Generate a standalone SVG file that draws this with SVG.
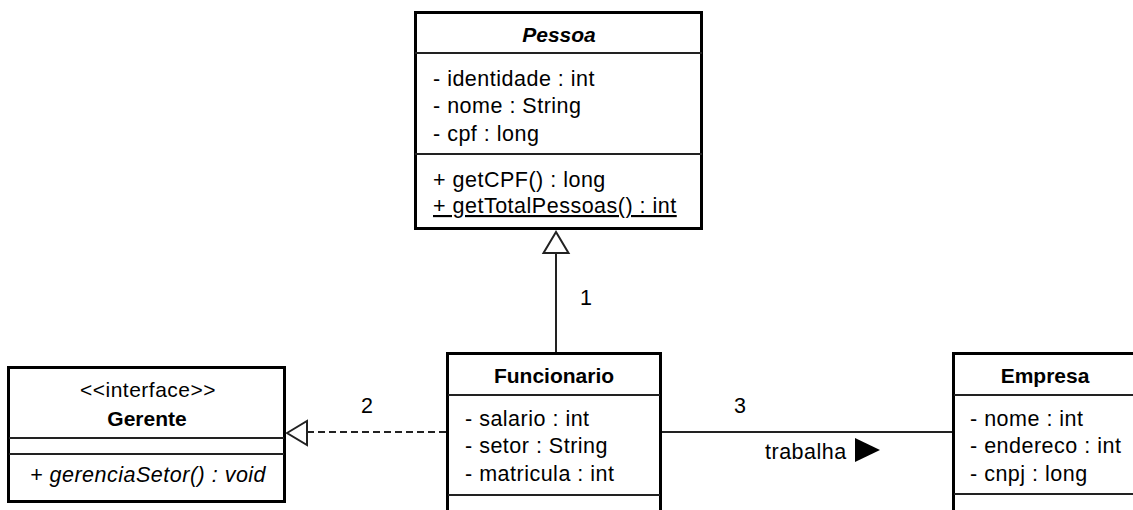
<svg xmlns="http://www.w3.org/2000/svg" width="1133" height="510" viewBox="0 0 1133 510">
<style>
.box{fill:#fff;stroke:#000;stroke-width:3}
.sep{stroke:#222;stroke-width:2}
.t{font-family:"Liberation Sans",Arial,sans-serif;font-size:21.5px;letter-spacing:0.5px;fill:#000}
.b{font-weight:bold;font-size:21px;letter-spacing:0}
.i{font-style:italic}
.c{text-anchor:middle}
.ln{stroke:#222;stroke-width:2;fill:none}
</style>
<rect width="1133" height="510" fill="#fff"/>
<g id="Pessoa">
<rect class="box" x="415.5" y="12.5" width="286" height="216"/>
<line class="sep" x1="415" y1="53" x2="702" y2="53"/>
<line class="sep" x1="415" y1="154" x2="702" y2="154"/>
<text class="t b i c" x="559" y="42">Pessoa</text>
<text class="t" x="433" y="86">- identidade : int</text>
<text class="t" x="433" y="113">- nome : String</text>
<text class="t" x="433" y="141">- cpf : long</text>
<text class="t" x="433" y="187">+ getCPF() : long</text>
<text class="t" x="433" y="213" text-decoration="underline">+ getTotalPessoas() : int</text>
</g>
<g id="Gerente">
<rect class="box" x="8.5" y="367.5" width="276" height="134"/>
<line class="sep" x1="9" y1="438" x2="284" y2="438"/>
<line class="sep" x1="9" y1="454" x2="284" y2="454"/>
<text class="t c" x="148" y="397" style="font-size:21px">&lt;&lt;interface&gt;&gt;</text>
<text class="t b c" x="147" y="426">Gerente</text>
<text class="t i" x="30" y="482">+ gerenciaSetor() : void</text>
</g>
<g id="Funcionario">
<rect class="box" x="447.5" y="353.5" width="213" height="200"/>
<line class="sep" x1="448" y1="395" x2="660" y2="395"/>
<line class="sep" x1="448" y1="495" x2="660" y2="495"/>
<text class="t b c" x="554" y="383">Funcionario</text>
<text class="t" x="465" y="426">- salario : int</text>
<text class="t" x="465" y="453">- setor : String</text>
<text class="t" x="465" y="481">- matricula : int</text>
</g>
<g id="Empresa">
<rect class="box" x="953.5" y="353.5" width="250" height="200"/>
<line class="sep" x1="954" y1="395" x2="1133" y2="395"/>
<line class="sep" x1="954" y1="494" x2="1133" y2="494"/>
<text class="t b c" x="1045" y="383">Empresa</text>
<text class="t" x="970" y="426">- nome : int</text>
<text class="t" x="970" y="453">- endereco : int</text>
<text class="t" x="970" y="481">- cnpj : long</text>
</g>
<g id="connectors">
<line class="ln" x1="556" y1="253" x2="556" y2="352"/>
<polygon points="556,232 543.5,253 568.5,253" fill="#fff" stroke="#222" stroke-width="2"/>
<text class="t" x="580" y="305">1</text>
<line class="ln" x1="307" y1="432" x2="446" y2="432" stroke-dasharray="7,4"/>
<polygon points="287,433 307,421 307,445" fill="#fff" stroke="#222" stroke-width="2"/>
<text class="t" x="361" y="413">2</text>
<line class="ln" x1="662" y1="432" x2="952" y2="432"/>
<text class="t" x="734" y="413">3</text>
<text class="t" x="765" y="459">trabalha</text>
<polygon points="855,438 880,450 855,462" fill="#000"/>
</g>
</svg>
